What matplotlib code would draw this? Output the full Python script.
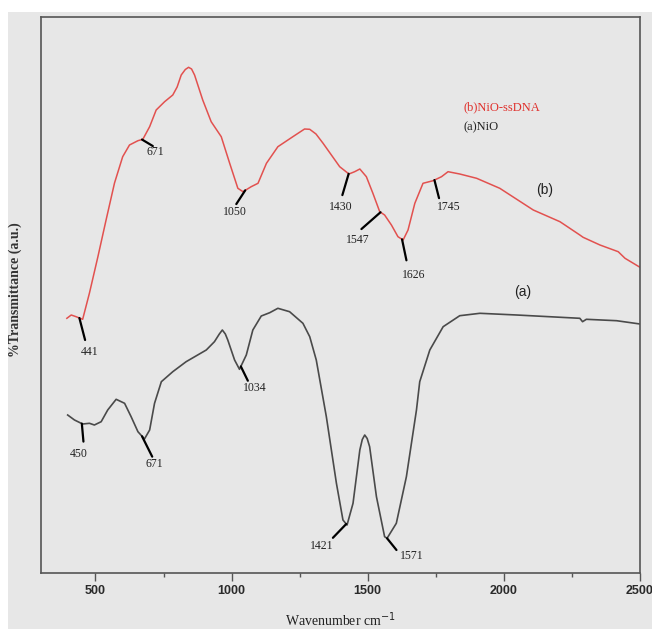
import numpy as np
import matplotlib
matplotlib.use("Agg")
import matplotlib.pyplot as plt
from matplotlib.patches import Rectangle

# FTIR spectra, values (transmittance in arbitrary units)
wn_b = [395, 411, 429, 453, 478, 509, 539, 570, 600, 625, 656, 674, 699, 723,
        754, 784, 800, 815, 830, 842, 853, 864, 894, 925, 962, 993, 1023, 1042,
        1072, 1097, 1128, 1170, 1225, 1268, 1287, 1310, 1336, 1397, 1431, 1452,
        1471, 1495, 1519, 1544, 1562, 1587, 1611, 1630, 1648, 1673, 1703, 1740,
        1771, 1795, 1838, 1900, 1985, 2108, 2206, 2279, 2291, 2353, 2420, 2445, 2500]
t_b = [281.7, 285, 283.3, 280.7, 307, 343.3, 380, 417, 443.3, 455, 459.3, 460.7,
       473.3, 490, 498.3, 505, 513, 525, 530.5, 532.7, 531, 525, 500, 478.3, 463.3,
       436.7, 411.7, 408.3, 413.3, 416.7, 436.7, 453.3, 463.3, 471, 470.7, 466,
       456.7, 433.3, 426, 428.3, 431, 423.3, 406.7, 388.3, 385, 375, 363.3, 360,
       370, 396.7, 416.7, 419.3, 423.3, 428.3, 426, 421.7, 411.7, 390, 378.3, 365,
       362.7, 355, 348.3, 341.7, 332.7]

wn_a = [398, 423, 453, 478, 496, 521, 545, 576, 607, 631, 656, 680, 699, 717,
        742, 784, 833, 907, 937, 955, 966, 977, 986, 1011, 1029, 1054, 1078, 1109,
        1140, 1170, 1213, 1262, 1287, 1311, 1348, 1385, 1409, 1424, 1446, 1471,
        1480, 1489, 1498, 1507, 1532, 1562, 1571, 1605, 1642, 1679, 1691, 1728,
        1777, 1838, 1912, 2047, 2279, 2289, 2303, 2414, 2500]
t_a = [185, 180, 176, 176.7, 175, 178.3, 190, 200.7, 196.7, 183.3, 168.3, 161,
       170, 196.7, 218.3, 228.3, 238.3, 250, 258.3, 266, 270, 266, 260, 240, 230.7,
       245, 270, 284, 287.3, 291.7, 288.3, 276.7, 263.3, 240, 183.3, 116.7, 80, 75,
       96.7, 150, 160.5, 165, 161.5, 153.3, 103.3, 63.3, 61.7, 76.7, 123.3, 190,
       218.3, 250, 273.3, 284.3, 286.7, 285, 281.7, 278.3, 280.7, 279.3, 276]

peaks_b = [441, 671, 1050, 1430, 1547, 1626, 1745]
peaks_a = [450, 671, 1034, 1421, 1571]

# (line dx, line dy, text dx, text dy) in pixels from the marked point
layout_b = [(5.7, -22, 10, -34), (10.8, -6.5, 13.5, -12.2), (-8.9, -13.7, -9.9, -21.4),
            (-6.3, -21.3, -8.3, -33.6), (-19.1, -16.8, -22.5, -28.2),
            (4.4, -21, 12, -36), (4.6, -18.1, 14.3, -27.1)]
layout_a = [(1.6, -18, -3.1, -30.3), (10.2, -20.4, 11.8, -27.7), (7, -14.3, 13.7, -21.7),
            (-13.3, -13.8, -24.9, -22.2), (9.4, -11.7, 24.7, -17.7)]

BG = "#e7e7e7"
RED = "#e2514f"
DARK = "#4a4a4a"

fig = plt.figure(figsize=(6.52, 6.29), dpi=100)
fig.patch.set_facecolor("white")
fig.patches.append(Rectangle((8 / 652, 0), 1, (629 - 12) / 629, transform=fig.transFigure,
                             facecolor=BG, edgecolor="none", zorder=-10))

ax = fig.add_axes([41 / 652, 1 - 573 / 629, 599 / 652, 556 / 629])
ax.set_facecolor(BG)

ax.plot(wn_b, t_b, color=RED, lw=1.1, solid_joinstyle="round")
ax.plot(wn_a, t_a, color=DARK, lw=1.2, solid_joinstyle="round")


def mark(peaks, wn, t, layout):
    for p, (lx, ly, tx, ty) in zip(peaks, layout):
        y = np.interp(p, wn, t)
        ax.annotate("", xy=(p, y), xytext=(lx, ly), textcoords="offset pixels",
                    arrowprops=dict(arrowstyle="-", color="black", lw=1.6,
                                    shrinkA=0, shrinkB=0))
        ax.annotate(str(p), xy=(p, y), xytext=(tx, ty), textcoords="offset pixels",
                    ha="center", va="center", fontsize=8.5,
                    family="Liberation Serif", color="#222222")


mark(peaks_b, wn_b, t_b, layout_b)
mark(peaks_a, wn_a, t_a, layout_a)

ax.text(2150, 410, "(b)", fontsize=10, family="Liberation Sans", color="#222222",
        ha="center", va="center")
ax.text(2068, 308, "(a)", fontsize=10, family="Liberation Sans", color="#222222",
        ha="center", va="center")
ax.text(1850, 493, "(b)NiO-ssDNA", fontsize=9, family="Liberation Serif", color="#e0302c",
        ha="left", va="center")
ax.text(1850, 473, "(a)NiO", fontsize=9, family="Liberation Serif", color="#222222",
        ha="left", va="center")

ax.set_xlim(300, 2500)
ax.set_ylim(27, 583)
ax.set_xticks([500, 1000, 1500, 2000, 2500])
ax.set_xticks([750, 1250, 1750, 2250], minor=True)
ax.set_yticks([])
ax.tick_params(axis="x", which="major", direction="out", length=5.5, width=1,
               color="#555555", labelsize=9, pad=3)
ax.tick_params(axis="x", which="minor", direction="out", length=3, width=1, color="#555555")
for lab in ax.get_xticklabels():
    lab.set_family("Liberation Sans")
    lab.set_fontweight("bold")
    lab.set_color("#2a2a2a")
for s in ax.spines.values():
    s.set_color("#555555")
    s.set_linewidth(1.2)

ax.set_xlabel("Wavenumber cm$^{-1}$", family="Liberation Serif", fontsize=10,
              labelpad=10, color="#222222")
fig.text(15 / 652, 1 - 290 / 629, "%Transmittance (a.u.)", rotation=90, ha="center",
         va="center", fontsize=10, fontweight="bold", family="Liberation Serif",
         color="#333333")

fig.savefig("out.png", dpi=100, facecolor=fig.get_facecolor())
